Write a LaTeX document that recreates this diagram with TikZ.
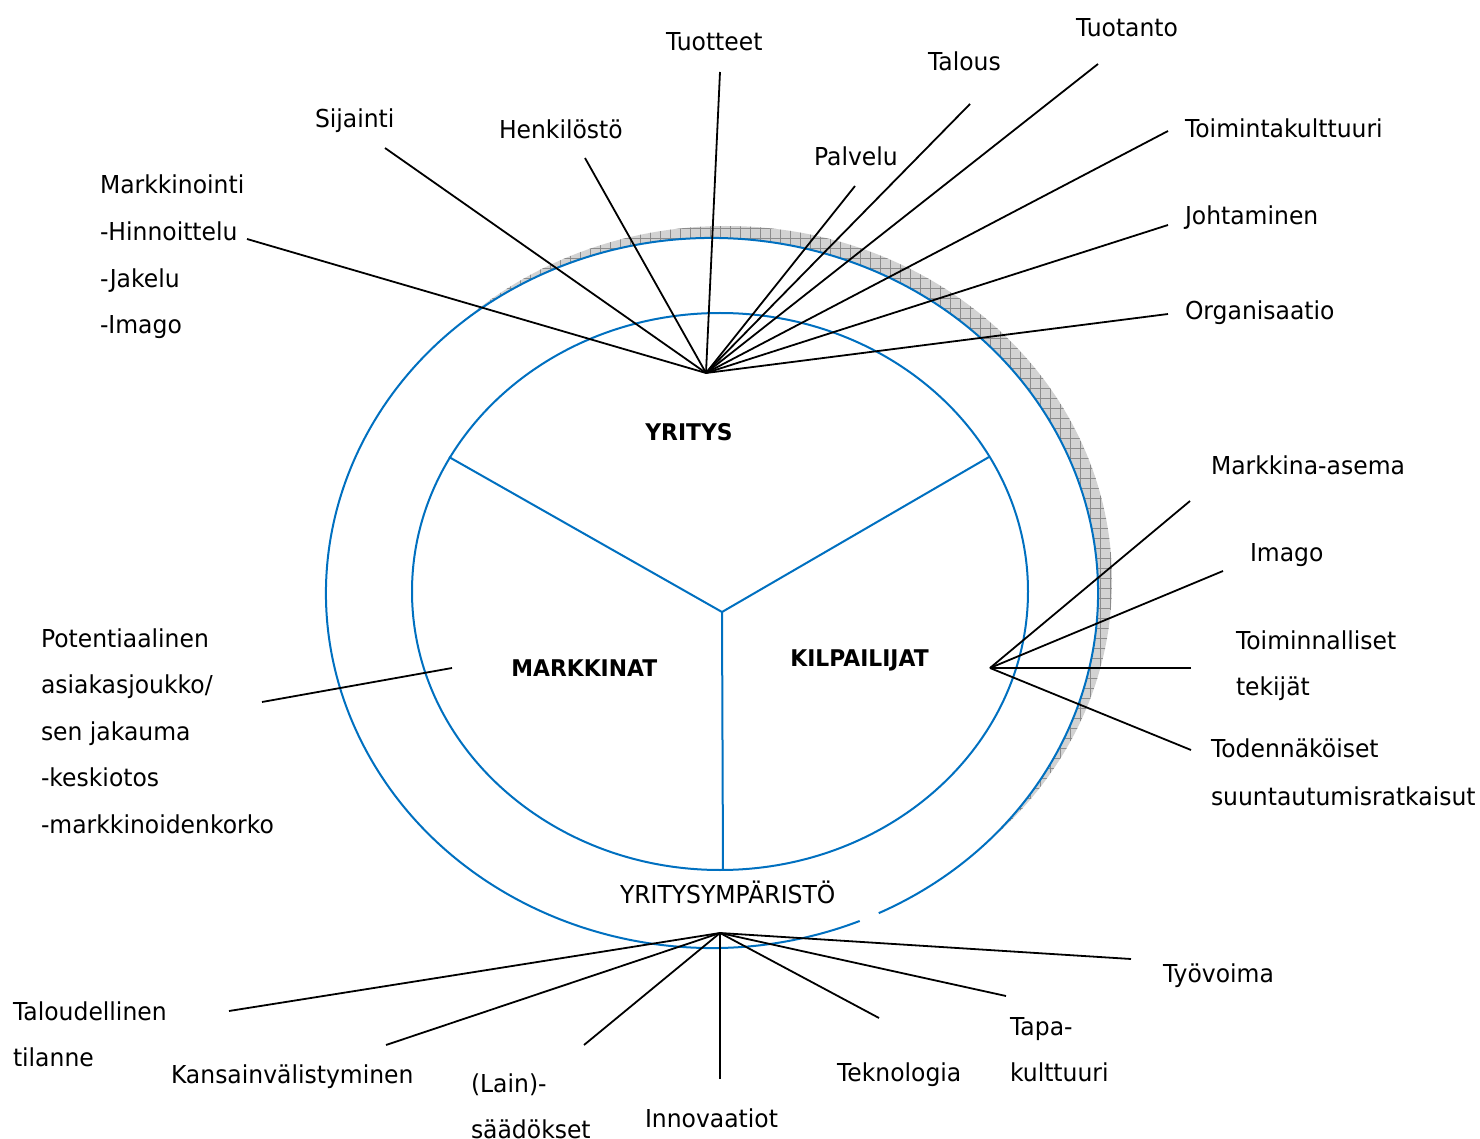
\documentclass[tikz,border=0pt]{standalone}
\usepackage{fontspec}
\setmainfont[FakeStretch=0.95]{DejaVu Sans}
\usetikzlibrary{patterns.meta}
\definecolor{ringblue}{RGB}{0,112,192}

\newcommand\lblfont{\fontsize{12.35}{23.3}\selectfont}
\newcommand\sectorfont{\fontsize{11.5}{14}\selectfont\bfseries}

\begin{document}
\begin{tikzpicture}[x=0.5pt,y=-0.5pt,
  ring/.style={draw=ringblue,line width=1pt},
  spoke/.style={draw=black,line width=0.9pt},
  lbl/.style={anchor=north west,inner sep=0pt,outer sep=0pt,align=left,
    font=\lblfont,yshift=16.31pt},
  sector/.style={anchor=base west,inner sep=0pt,font=\sectorfont}]

\useasboundingbox (0,0) rectangle (1480,1139);

% --- rings -------------------------------------------------------------
\coordinate (oc) at (712,593);
\coordinate (sc) at (726,581);
\coordinate (ic) at (720,591.5);

% hatched shadow of the outer ring
\fill[gray!35] (sc) ellipse[x radius=193pt,y radius=177.5pt];
\fill[pattern={Hatch[angle=0,distance=5pt,line width=0.5pt]},pattern color=gray!90]
  (sc) ellipse[x radius=193pt,y radius=177.5pt];
\fill[white] (oc) ellipse[x radius=193pt,y radius=177.5pt];

% outer ring (with its small break at the lower right)
\draw[ring] ([shift={(-64.4:193pt and 177.5pt)}]oc)
  arc[start angle=-64.4,end angle=292.5,x radius=193pt,y radius=177.5pt];

% inner ring and its three sectors
\draw[ring] (ic) ellipse[x radius=154pt,y radius=139.25pt];
\coordinate (yc) at (722,612);
\coordinate (ya) at (449,457);
\coordinate (yb) at (989,457);
\coordinate (yd) at (723,870);
\draw[ring] (ya) -- (yc) -- (yb);
\draw[ring] (yc) -- (yd);

% --- sector names ------------------------------------------------------
\node[sector] (yritys) at (645,441) {YRITYS};
\node[sector] (markkinat) at (511,676) {MARKKINAT};
\node[sector] (kilpailijat) at (790,666) {KILPAILIJAT};
\node[lbl] (ymparisto) at (620,903) {\strut YRITYSYMPÄRISTÖ};

% --- hubs --------------------------------------------------------------
\coordinate (htop) at (706,373);
\coordinate (hright) at (990,668);
\coordinate (hbot) at (720,933);

% --- company factors ---------------------------------------------------
\node[lbl] (tuotteet) at (666,51) {\strut Tuotteet};
\node[lbl] (talous) at (928,71) {\strut Talous};
\node[lbl] (tuotanto) at (1076,37) {\strut Tuotanto};
\node[lbl] (sijainti) at (315,128) {\strut Sijainti};
\node[lbl] (henkilosto) at (499,139) {\strut Henkilöstö};
\node[lbl] (palvelu) at (814,166) {\strut Palvelu};
\node[lbl] (toimintak) at (1185,138) {\strut Toimintakulttuuri};
\node[lbl] (johtaminen) at (1185,225) {\strut Johtaminen};
\node[lbl] (organisaatio) at (1185,320) {\strut Organisaatio};
\node[lbl] (markkinointi) at (100,194)
  {\strut Markkinointi\\-Hinnoittelu\\-Jakelu\\-Imago};

\coordinate (e-tuotteet) at (720,72);
\coordinate (e-talous) at (970,104);
\coordinate (e-tuotanto) at (1098,64);
\coordinate (e-sijainti) at (385,148);
\coordinate (e-henkilosto) at (585,158);
\coordinate (e-palvelu) at (855,186);
\coordinate (e-toimintak) at (1168,131);
\coordinate (e-johtaminen) at (1168,225);
\coordinate (e-organisaatio) at (1168,314);
\coordinate (e-markkinointi) at (247,239);

\foreach \e in {tuotteet,talous,tuotanto,sijainti,henkilosto,palvelu,
                toimintak,johtaminen,organisaatio,markkinointi}
  \draw[spoke] (e-\e) -- (htop);

% --- competitor factors ------------------------------------------------
\node[lbl] (masema) at (1211,475) {\strut Markkina-asema};
\node[lbl] (imago) at (1250,561) {\strut Imago};
\node[lbl] (toiminn) at (1236,649) {\strut Toiminnalliset\\tekijät};
\node[lbl] (todenn) at (1211,757) {\strut Todennäköiset\\[1pt]suuntautumisratkaisut};

\coordinate (e-masema) at (1190,501);
\coordinate (e-imago) at (1223,571);
\coordinate (e-toiminn) at (1191,668);
\coordinate (e-todenn) at (1191,750);

\foreach \e in {masema,imago,toiminn,todenn}
  \draw[spoke] (e-\e) -- (hright);

% --- market factors ----------------------------------------------------
\node[lbl] (potent) at (41,647)
  {\strut Potentiaalinen\\asiakasjoukko/\\sen jakauma\\-keskiotos\\-markkinoidenkorko};
\coordinate (e-potent) at (262,702);
\coordinate (e-markkinat) at (452,668);
\draw[spoke] (e-potent) -- (e-markkinat);

% --- environment factors -----------------------------------------------
\node[lbl] (tyovoima) at (1163,982) {\strut Työvoima};
\node[lbl] (taloud) at (13,1020) {\strut Taloudellinen\\tilanne};
\node[lbl] (kansain) at (171,1083) {\strut Kansainvälistyminen};
\node[lbl] (lain) at (471,1092) {\strut (Lain)-\\säädökset};
\node[lbl] (innovaatiot) at (645,1127) {\strut Innovaatiot};
\node[lbl] (teknologia) at (837,1081) {\strut Teknologia};
\node[lbl] (tapa) at (1010,1035) {\strut Tapa-\\kulttuuri};

\coordinate (e-taloud) at (229,1011);
\coordinate (e-kansain) at (386,1045);
\coordinate (e-lain) at (584,1045);
\coordinate (e-innovaatiot) at (720,1079);
\coordinate (e-teknologia) at (879,1018);
\coordinate (e-tapa) at (1006,996);
\coordinate (e-tyovoima) at (1131,959);

\foreach \e in {taloud,kansain,lain,innovaatiot,teknologia,tapa,tyovoima}
  \draw[spoke] (e-\e) -- (hbot);

\end{tikzpicture}
\end{document}
